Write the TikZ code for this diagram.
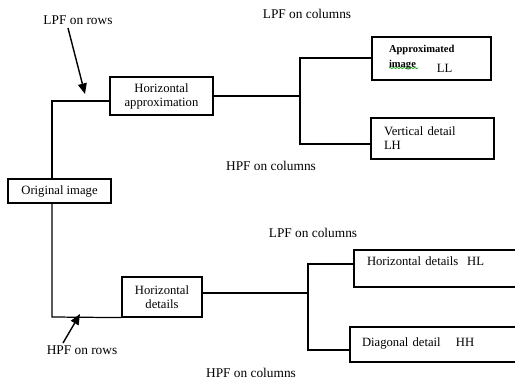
\documentclass[tikz,border=0pt]{standalone}
\usepackage{fontspec}
\setmainfont{Liberation Serif}
\usetikzlibrary{arrows.meta,decorations.pathmorphing}

\begin{document}
\begin{tikzpicture}[x=0.02cm, y=-0.02cm,
        box/.style = {draw, line width=0.7pt, inner sep=0pt, align=center,
                      font=\fontsize{7.2}{8}\selectfont},
        lbox/.style = {box, align=left, inner xsep=0.26cm},
        lab/.style = {font=\fontsize{7.6}{9}\selectfont, inner sep=1pt},
        wire/.style = {line width=0.7pt},
        arr/.style = {line width=0.8pt, -{Triangle[length=6pt, width=5pt]}}]
                   \useasboundingbox (0,0) rectangle (515,379);
                   \clip (0,0) rectangle (515,379);

                   % boxes
                   \node[box, minimum width=2.06cm, minimum height=0.48cm] (orig) at (59.5,191) {Original image};
                   \node[box, minimum width=2.06cm, minimum height=0.76cm] (hap) at (161.5,96) {Horizontal\\approximation};
                   \node[box, minimum width=1.6cm, minimum height=0.8cm] (hdet) at (162,297) {Horizontal\\details};
                   \node[lbox, inner xsep=0.34cm, text width=1.7cm, minimum height=0.86cm] (ll) at (431.5,58.5)
                        {\textbf{\fontsize{6}{7}\selectfont Approximated}\\[1pt]\textbf{\fontsize{6}{7}\selectfont image}\hspace{0.42cm}\raisebox{-2.5pt}{LL}};
                   \node[lbox, text width=1.94cm, minimum height=0.82cm] (lh) at (432.5,138.5) {Vertical detail\\LH};
                   \node[lbox, text width=2.88cm, minimum height=0.74cm] (hl) at (439,268.5) {Horizontal details\hspace{0.7em}HL\\\mbox{}};
                   \node[lbox, inner xsep=0.24cm, text width=3.02cm, minimum height=0.7cm] (hh) at (437.5,344.5) {\raisebox{2.5pt}{Diagonal detail\hspace{1.2em}HH}};

                   % filter labels
                   \node[lab] (lpfrows) at (78,20) {LPF on rows};
                   \node[lab] (hpfrows) at (82,350) {HPF on rows};
                   \node[lab] (lpfcola) at (307,14) {LPF on columns};
                   \node[lab] (hpfcola) at (271,166) {HPF on columns};
                   \node[lab] (lpfcolb) at (313,233) {LPF on columns};
                   \node[lab] (hpfcolb) at (251,373) {HPF on columns};

                   % junctions
                   \coordinate (ja) at (52,101);
                   \coordinate (jb) at (52,317);
                   \coordinate (jc) at (300,58);
                   \coordinate (jd) at (300,144);
                   \coordinate (je) at (308,264);
                   \coordinate (jf) at (308,350);

                   \draw[wire] (ja |- orig.north) -- (ja) -- (ja -| hap.west);
                   \draw[wire] (jb |- orig.south) -- (jb) -- (hdet.south west);
                   \draw[wire] (hap.east) -- (hap.east -| jc);
                   \draw[wire] (jc -| ll.west) -- (jc) -- (jd) -- (jd -| lh.west);
                   \draw[wire] ([yshift=0.08cm]hdet.east) -- ([yshift=0.08cm]hdet.east -| je);
                   \draw[wire] (je -| hl.west) -- (je) -- (jf) -- (jf -| hh.west);

                   % filter arrows
                   \coordinate (sa) at (68,28);
                   \coordinate (ta) at (85,94);
                   \coordinate (sb) at (63,343);
                   \coordinate (tb) at (80,314);
                   \draw[arr] (sa) -- (ta);
                   \draw[arr] (sb) -- (tb);

                   % spell check mark
                   \draw[green!60!black, line width=0.4pt, decorate,
                         decoration={snake, amplitude=0.3pt, segment length=2pt}] (389,68) -- (418,68);
        \end{tikzpicture}
\end{document}
